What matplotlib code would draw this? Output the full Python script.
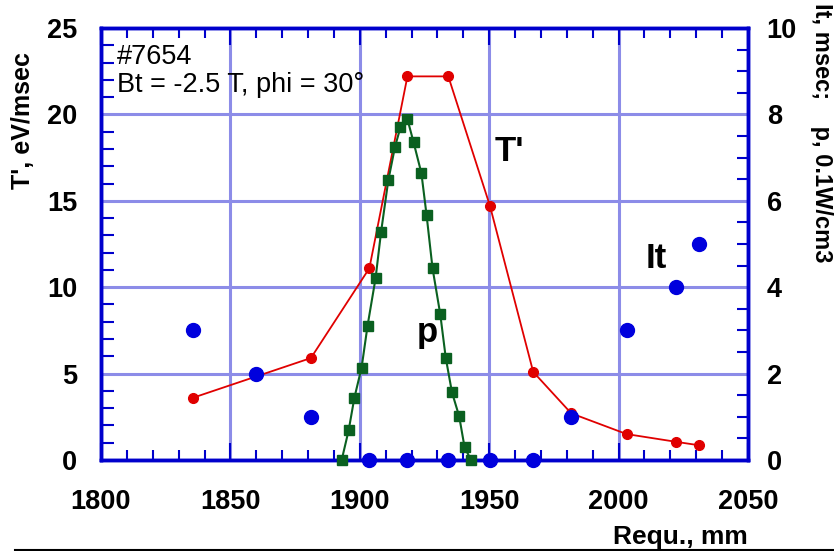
import matplotlib
matplotlib.use("Agg")
import matplotlib.pyplot as plt
from matplotlib.ticker import MultipleLocator
from matplotlib.lines import Line2D

plt.rcParams['font.family'] = ['Liberation Sans', 'DejaVu Sans']

# T' (left axis, eV/msec)
t_r = [1835.5, 1881.1, 1903.7, 1918.4, 1934.2, 1950.3, 1967.0, 1981.7, 2003.1, 2022.3, 2031.2]
t_val = [3.6, 5.9, 11.1, 22.2, 22.2, 14.7, 5.1, 2.7, 1.5, 1.05, 0.85]

# It (right axis, msec)
it_r = [1835.5, 1859.8, 1881.1, 1903.7, 1918.4, 1934.2, 1950.3, 1967.0, 1981.7, 2003.1, 2022.3, 2031.2]
it_val = [3.0, 2.0, 1.0, 0.0, 0.0, 0.0, 0.0, 0.0, 1.0, 3.0, 4.0, 5.0]

# p (right axis, 0.1 W/cm3)
p_r = [1893.0, 1895.7, 1897.9, 1900.7, 1903.0, 1906.1, 1908.2, 1911.0, 1913.6, 1915.7, 1918.4,
       1920.8, 1923.8, 1925.8, 1928.1, 1931.1, 1933.2, 1935.6, 1938.4, 1940.5, 1943.0]
p_val = [0.0, 0.69, 1.44, 2.14, 3.11, 4.21, 5.27, 6.47, 7.25, 7.70, 7.89,
         7.35, 6.64, 5.67, 4.44, 3.37, 2.37, 1.57, 1.01, 0.29, 0.0]

blue = '#0000cc'
gridc = '#8c8ce8'
fs = 19.5

fig = plt.figure(figsize=(8.34, 5.51), dpi=100)
ax = fig.add_axes([101/834, 91/551, 647/834, 432/551])
ax2 = ax.twinx()

ax.set_xlim(1800, 2050)
ax.set_ylim(0, 25)
ax2.set_ylim(0, 10)

ax.xaxis.set_major_locator(MultipleLocator(50))
ax.xaxis.set_minor_locator(MultipleLocator(10))
ax.yaxis.set_major_locator(MultipleLocator(5))
ax.yaxis.set_minor_locator(MultipleLocator(1))
ax2.yaxis.set_major_locator(MultipleLocator(2))
ax2.yaxis.set_minor_locator(MultipleLocator(0.5))

ax.grid(True, which='major', color=gridc, lw=2.2)
ax.set_axisbelow(True)

for a in (ax, ax2):
    for s in a.spines.values():
        s.set_color(blue)
        s.set_linewidth(2.5)
ax.tick_params(axis='x', which='both', direction='in', top=True, color=blue, width=1.5)
ax.tick_params(axis='x', which='major', length=12, pad=21, labelsize=fs)
ax.tick_params(axis='x', which='minor', length=7)
ax.tick_params(axis='y', which='both', direction='in', color=blue, width=1.5, right=False)
ax.tick_params(axis='y', which='major', length=0, pad=17, labelsize=fs)
ax.tick_params(axis='y', which='minor', length=9)
ax2.tick_params(axis='y', which='both', direction='in', color=blue, width=1.5)
ax2.tick_params(axis='y', which='major', length=0, pad=13.5, labelsize=fs)
ax2.tick_params(axis='y', which='minor', length=8)
for lab in ax.get_xticklabels() + ax.get_yticklabels() + ax2.get_yticklabels():
    lab.set_fontweight('bold')

ax.plot(t_r, t_val, color='#e00000', lw=1.3, marker='o', ms=7, clip_on=False, zorder=3)
ax2.plot(p_r, p_val, color='#0a6020', lw=1.5, marker='s', ms=7, mfc='#0a6020', mec='#0a6020',
         clip_on=False, zorder=3)
ax2.plot(it_r, it_val, ls='none', marker='o', ms=10, color='#0000dd', clip_on=False, zorder=4)

ax.text(1806.2, 22.9, '#7654', fontsize=fs)
ax.text(1806.2, 21.3, 'Bt = -2.5 T, phi = 30°', fontsize=fs)
ax.text(1952.2, 17.3, "T'", fontsize=25, fontweight='bold')
ax.text(1922, 6.84, 'p', fontsize=25, fontweight='bold')
ax.text(2010.4, 11.1, 'It', fontsize=25, fontweight='bold')

fig.text(23/834, 1 - 121/551, "T', eV/msec", rotation=90, ha='center', va='center',
         fontsize=18, fontweight='bold')
fig.text(822/834, 1 - 133/551, 'It, msec;    p, 0.1W/cm3', rotation=-90, ha='center', va='center',
         fontsize=17, fontweight='bold')
fig.text(748/834, 1 - 537/551, 'Requ., mm', ha='right', va='center', fontsize=19, fontweight='bold')
fig.add_artist(Line2D([15/834, 1], [1.5/551, 1.5/551], color='black', lw=1.5))

fig.savefig('out.png', dpi=100)
